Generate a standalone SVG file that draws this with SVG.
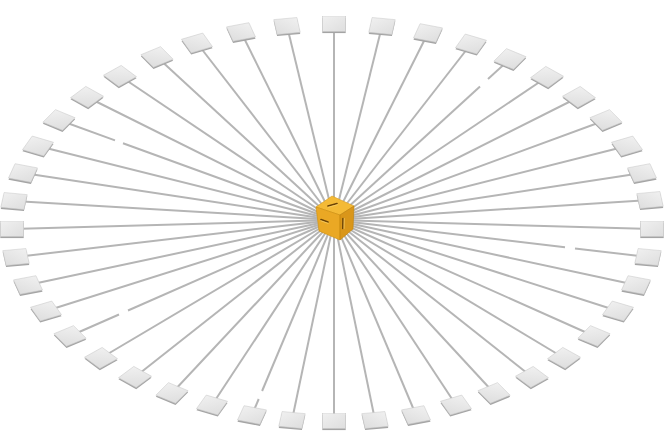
<svg xmlns="http://www.w3.org/2000/svg" xmlns:xlink="http://www.w3.org/1999/xlink" width="672" height="448" viewBox="0 0 672 448">
<style>
.ln{stroke:#b5b5b5;stroke-width:2;fill:none;stroke-linecap:butt}
.edge{fill:#a4a4a4}
.face{fill:url(#tg);stroke:#c8c8c8;stroke-width:0.6;vector-effect:non-scaling-stroke}
.mark{stroke:#6b4306;stroke-width:1.6;stroke-linecap:round;fill:none}
.markhl{stroke:#f7cf6a;stroke-width:0.8;stroke-linecap:round;fill:none}
</style>
<defs>
<linearGradient id="tg" x1="0" y1="0" x2="1" y2="1">
<stop offset="0" stop-color="#f0f0f0"/>
<stop offset="1" stop-color="#dedede"/>
</linearGradient>
<rect id="sq" x="-11.7" y="-11.7" width="23.4" height="23.4"/>
</defs>
<rect width="672" height="448" fill="#ffffff"/>
<g id="connectors">
<line class="ln" x1="334" y1="220" x2="334" y2="24"/>
<line class="ln" x1="334" y1="220" x2="382" y2="26"/>
<line class="ln" x1="334" y1="220" x2="428" y2="33"/>
<line class="ln" x1="334" y1="220" x2="471" y2="44"/>
<line class="ln" x1="334" y1="220" x2="480" y2="86.4"/>
<line class="ln" x1="488" y1="79.1" x2="510" y2="59"/>
<line class="ln" x1="334" y1="220" x2="547" y2="77"/>
<line class="ln" x1="334" y1="220" x2="579" y2="97"/>
<line class="ln" x1="334" y1="220" x2="606" y2="120"/>
<line class="ln" x1="334" y1="220" x2="627" y2="146"/>
<line class="ln" x1="334" y1="220" x2="642" y2="173"/>
<line class="ln" x1="334" y1="220" x2="650" y2="200"/>
<line class="ln" x1="334" y1="220" x2="652" y2="229"/>
<line class="ln" x1="334" y1="220" x2="565" y2="247.2"/>
<line class="ln" x1="575" y1="248.4" x2="648" y2="257"/>
<line class="ln" x1="334" y1="220" x2="636" y2="285"/>
<line class="ln" x1="334" y1="220" x2="618" y2="311"/>
<line class="ln" x1="334" y1="220" x2="594" y2="336"/>
<line class="ln" x1="334" y1="220" x2="564" y2="358"/>
<line class="ln" x1="334" y1="220" x2="532" y2="377"/>
<line class="ln" x1="334" y1="220" x2="494" y2="393"/>
<line class="ln" x1="334" y1="220" x2="456" y2="405"/>
<line class="ln" x1="334" y1="220" x2="416" y2="415"/>
<line class="ln" x1="334" y1="220" x2="375" y2="420"/>
<line class="ln" x1="334" y1="220" x2="334" y2="421"/>
<line class="ln" x1="334" y1="220" x2="292" y2="420"/>
<line class="ln" x1="334" y1="220" x2="262.1" y2="391"/>
<line class="ln" x1="258.7" y1="399" x2="252" y2="415"/>
<line class="ln" x1="334" y1="220" x2="212" y2="405"/>
<line class="ln" x1="334" y1="220" x2="172" y2="393"/>
<line class="ln" x1="334" y1="220" x2="135" y2="377"/>
<line class="ln" x1="334" y1="220" x2="101" y2="358"/>
<line class="ln" x1="334" y1="220" x2="128" y2="310.5"/>
<line class="ln" x1="119" y1="314.5" x2="70" y2="336"/>
<line class="ln" x1="334" y1="220" x2="46" y2="311"/>
<line class="ln" x1="334" y1="220" x2="28" y2="285"/>
<line class="ln" x1="334" y1="220" x2="16" y2="257"/>
<line class="ln" x1="334" y1="220" x2="12" y2="229"/>
<line class="ln" x1="334" y1="220" x2="14" y2="201"/>
<line class="ln" x1="334" y1="220" x2="23" y2="173"/>
<line class="ln" x1="334" y1="220" x2="38" y2="146"/>
<line class="ln" x1="334" y1="220" x2="123" y2="143.3"/>
<line class="ln" x1="115" y1="140.4" x2="59" y2="120"/>
<line class="ln" x1="334" y1="220" x2="87" y2="97"/>
<line class="ln" x1="334" y1="220" x2="120" y2="76"/>
<line class="ln" x1="334" y1="220" x2="157" y2="57"/>
<line class="ln" x1="334" y1="220" x2="197" y2="43"/>
<line class="ln" x1="334" y1="220" x2="241" y2="32"/>
<line class="ln" x1="334" y1="220" x2="287" y2="26"/>
</g>
<g id="tile-0" transform="translate(334,24)"><use href="#sq" class="edge" transform="translate(0,1.6) scale(1,0.64) rotate(0)"/><use href="#sq" class="face" transform="scale(1,0.64) rotate(0)"/></g>
<g id="tile-1" transform="translate(382,26)"><use href="#sq" class="edge" transform="translate(0,1.6) scale(1,0.64) rotate(8.18)"/><use href="#sq" class="face" transform="scale(1,0.64) rotate(8.18)"/></g>
<g id="tile-2" transform="translate(428,33)"><use href="#sq" class="edge" transform="translate(0,1.6) scale(1,0.64) rotate(16.36)"/><use href="#sq" class="face" transform="scale(1,0.64) rotate(16.36)"/></g>
<g id="tile-3" transform="translate(471,44)"><use href="#sq" class="edge" transform="translate(0,1.6) scale(1,0.64) rotate(24.55)"/><use href="#sq" class="face" transform="scale(1,0.64) rotate(24.55)"/></g>
<g id="tile-4" transform="translate(510,59)"><use href="#sq" class="edge" transform="translate(0,1.6) scale(1,0.64) rotate(32.73)"/><use href="#sq" class="face" transform="scale(1,0.64) rotate(32.73)"/></g>
<g id="tile-5" transform="translate(547,77)"><use href="#sq" class="edge" transform="translate(0,1.6) scale(1,0.64) rotate(40.91)"/><use href="#sq" class="face" transform="scale(1,0.64) rotate(40.91)"/></g>
<g id="tile-6" transform="translate(579,97)"><use href="#sq" class="edge" transform="translate(0,1.6) scale(1,0.64) rotate(49.09)"/><use href="#sq" class="face" transform="scale(1,0.64) rotate(49.09)"/></g>
<g id="tile-7" transform="translate(606,120)"><use href="#sq" class="edge" transform="translate(0,1.6) scale(1,0.64) rotate(57.27)"/><use href="#sq" class="face" transform="scale(1,0.64) rotate(57.27)"/></g>
<g id="tile-8" transform="translate(627,146)"><use href="#sq" class="edge" transform="translate(0,1.6) scale(1,0.64) rotate(65.45)"/><use href="#sq" class="face" transform="scale(1,0.64) rotate(65.45)"/></g>
<g id="tile-9" transform="translate(642,173)"><use href="#sq" class="edge" transform="translate(0,1.6) scale(1,0.64) rotate(73.64)"/><use href="#sq" class="face" transform="scale(1,0.64) rotate(73.64)"/></g>
<g id="tile-10" transform="translate(650,200)"><use href="#sq" class="edge" transform="translate(0,1.6) scale(1,0.64) rotate(81.82)"/><use href="#sq" class="face" transform="scale(1,0.64) rotate(81.82)"/></g>
<g id="tile-11" transform="translate(652,229)"><use href="#sq" class="edge" transform="translate(0,1.6) scale(1,0.64) rotate(0)"/><use href="#sq" class="face" transform="scale(1,0.64) rotate(0)"/></g>
<g id="tile-12" transform="translate(648,257)"><use href="#sq" class="edge" transform="translate(0,1.6) scale(1,0.64) rotate(8.18)"/><use href="#sq" class="face" transform="scale(1,0.64) rotate(8.18)"/></g>
<g id="tile-13" transform="translate(636,285)"><use href="#sq" class="edge" transform="translate(0,1.6) scale(1,0.64) rotate(16.36)"/><use href="#sq" class="face" transform="scale(1,0.64) rotate(16.36)"/></g>
<g id="tile-14" transform="translate(618,311)"><use href="#sq" class="edge" transform="translate(0,1.6) scale(1,0.64) rotate(24.55)"/><use href="#sq" class="face" transform="scale(1,0.64) rotate(24.55)"/></g>
<g id="tile-15" transform="translate(594,336)"><use href="#sq" class="edge" transform="translate(0,1.6) scale(1,0.64) rotate(32.73)"/><use href="#sq" class="face" transform="scale(1,0.64) rotate(32.73)"/></g>
<g id="tile-16" transform="translate(564,358)"><use href="#sq" class="edge" transform="translate(0,1.6) scale(1,0.64) rotate(40.91)"/><use href="#sq" class="face" transform="scale(1,0.64) rotate(40.91)"/></g>
<g id="tile-17" transform="translate(532,377)"><use href="#sq" class="edge" transform="translate(0,1.6) scale(1,0.64) rotate(49.09)"/><use href="#sq" class="face" transform="scale(1,0.64) rotate(49.09)"/></g>
<g id="tile-18" transform="translate(494,393)"><use href="#sq" class="edge" transform="translate(0,1.6) scale(1,0.64) rotate(57.27)"/><use href="#sq" class="face" transform="scale(1,0.64) rotate(57.27)"/></g>
<g id="tile-19" transform="translate(456,405)"><use href="#sq" class="edge" transform="translate(0,1.6) scale(1,0.64) rotate(65.45)"/><use href="#sq" class="face" transform="scale(1,0.64) rotate(65.45)"/></g>
<g id="tile-20" transform="translate(416,415)"><use href="#sq" class="edge" transform="translate(0,1.6) scale(1,0.64) rotate(73.64)"/><use href="#sq" class="face" transform="scale(1,0.64) rotate(73.64)"/></g>
<g id="tile-21" transform="translate(375,420)"><use href="#sq" class="edge" transform="translate(0,1.6) scale(1,0.64) rotate(81.82)"/><use href="#sq" class="face" transform="scale(1,0.64) rotate(81.82)"/></g>
<g id="tile-22" transform="translate(334,421)"><use href="#sq" class="edge" transform="translate(0,1.6) scale(1,0.64) rotate(0)"/><use href="#sq" class="face" transform="scale(1,0.64) rotate(0)"/></g>
<g id="tile-23" transform="translate(292,420)"><use href="#sq" class="edge" transform="translate(0,1.6) scale(1,0.64) rotate(8.18)"/><use href="#sq" class="face" transform="scale(1,0.64) rotate(8.18)"/></g>
<g id="tile-24" transform="translate(252,415)"><use href="#sq" class="edge" transform="translate(0,1.6) scale(1,0.64) rotate(16.36)"/><use href="#sq" class="face" transform="scale(1,0.64) rotate(16.36)"/></g>
<g id="tile-25" transform="translate(212,405)"><use href="#sq" class="edge" transform="translate(0,1.6) scale(1,0.64) rotate(24.55)"/><use href="#sq" class="face" transform="scale(1,0.64) rotate(24.55)"/></g>
<g id="tile-26" transform="translate(172,393)"><use href="#sq" class="edge" transform="translate(0,1.6) scale(1,0.64) rotate(32.73)"/><use href="#sq" class="face" transform="scale(1,0.64) rotate(32.73)"/></g>
<g id="tile-27" transform="translate(135,377)"><use href="#sq" class="edge" transform="translate(0,1.6) scale(1,0.64) rotate(40.91)"/><use href="#sq" class="face" transform="scale(1,0.64) rotate(40.91)"/></g>
<g id="tile-28" transform="translate(101,358)"><use href="#sq" class="edge" transform="translate(0,1.6) scale(1,0.64) rotate(49.09)"/><use href="#sq" class="face" transform="scale(1,0.64) rotate(49.09)"/></g>
<g id="tile-29" transform="translate(70,336)"><use href="#sq" class="edge" transform="translate(0,1.6) scale(1,0.64) rotate(57.27)"/><use href="#sq" class="face" transform="scale(1,0.64) rotate(57.27)"/></g>
<g id="tile-30" transform="translate(46,311)"><use href="#sq" class="edge" transform="translate(0,1.6) scale(1,0.64) rotate(65.45)"/><use href="#sq" class="face" transform="scale(1,0.64) rotate(65.45)"/></g>
<g id="tile-31" transform="translate(28,285)"><use href="#sq" class="edge" transform="translate(0,1.6) scale(1,0.64) rotate(73.64)"/><use href="#sq" class="face" transform="scale(1,0.64) rotate(73.64)"/></g>
<g id="tile-32" transform="translate(16,257)"><use href="#sq" class="edge" transform="translate(0,1.6) scale(1,0.64) rotate(81.82)"/><use href="#sq" class="face" transform="scale(1,0.64) rotate(81.82)"/></g>
<g id="tile-33" transform="translate(12,229)"><use href="#sq" class="edge" transform="translate(0,1.6) scale(1,0.64) rotate(0)"/><use href="#sq" class="face" transform="scale(1,0.64) rotate(0)"/></g>
<g id="tile-34" transform="translate(14,201)"><use href="#sq" class="edge" transform="translate(0,1.6) scale(1,0.64) rotate(8.18)"/><use href="#sq" class="face" transform="scale(1,0.64) rotate(8.18)"/></g>
<g id="tile-35" transform="translate(23,173)"><use href="#sq" class="edge" transform="translate(0,1.6) scale(1,0.64) rotate(16.36)"/><use href="#sq" class="face" transform="scale(1,0.64) rotate(16.36)"/></g>
<g id="tile-36" transform="translate(38,146)"><use href="#sq" class="edge" transform="translate(0,1.6) scale(1,0.64) rotate(24.55)"/><use href="#sq" class="face" transform="scale(1,0.64) rotate(24.55)"/></g>
<g id="tile-37" transform="translate(59,120)"><use href="#sq" class="edge" transform="translate(0,1.6) scale(1,0.64) rotate(32.73)"/><use href="#sq" class="face" transform="scale(1,0.64) rotate(32.73)"/></g>
<g id="tile-38" transform="translate(87,97)"><use href="#sq" class="edge" transform="translate(0,1.6) scale(1,0.64) rotate(40.91)"/><use href="#sq" class="face" transform="scale(1,0.64) rotate(40.91)"/></g>
<g id="tile-39" transform="translate(120,76)"><use href="#sq" class="edge" transform="translate(0,1.6) scale(1,0.64) rotate(49.09)"/><use href="#sq" class="face" transform="scale(1,0.64) rotate(49.09)"/></g>
<g id="tile-40" transform="translate(157,57)"><use href="#sq" class="edge" transform="translate(0,1.6) scale(1,0.64) rotate(57.27)"/><use href="#sq" class="face" transform="scale(1,0.64) rotate(57.27)"/></g>
<g id="tile-41" transform="translate(197,43)"><use href="#sq" class="edge" transform="translate(0,1.6) scale(1,0.64) rotate(65.45)"/><use href="#sq" class="face" transform="scale(1,0.64) rotate(65.45)"/></g>
<g id="tile-42" transform="translate(241,32)"><use href="#sq" class="edge" transform="translate(0,1.6) scale(1,0.64) rotate(73.64)"/><use href="#sq" class="face" transform="scale(1,0.64) rotate(73.64)"/></g>
<g id="tile-43" transform="translate(287,26)"><use href="#sq" class="edge" transform="translate(0,1.6) scale(1,0.64) rotate(81.82)"/><use href="#sq" class="face" transform="scale(1,0.64) rotate(81.82)"/></g>
<g id="hub">
<polygon points="332,196 316,207 340,215 354,206" fill="#f4ba36" stroke="#d99c1c" stroke-width="0.6" stroke-linejoin="round"/>
<polygon points="316,207 340,215 340,240 319,231" fill="#eaa824" stroke="#d0900e" stroke-width="0.6" stroke-linejoin="round"/>
<polygon points="340,215 354,206 353,229 340,240" fill="#d9961a" stroke="#c0820c" stroke-width="0.6" stroke-linejoin="round"/>
<line class="mark" x1="328" y1="206" x2="337" y2="203.5"/>
<line class="markhl" x1="328.5" y1="207.2" x2="337.5" y2="204.7"/>
<line class="mark" x1="321" y1="219.5" x2="328" y2="222"/>
<line class="markhl" x1="321" y1="220.8" x2="328" y2="223.3"/>
<line class="mark" x1="343" y1="218.5" x2="342.8" y2="228.5"/>
<line class="markhl" x1="344.2" y1="218.5" x2="344" y2="228.5"/>
</g>
</svg>
